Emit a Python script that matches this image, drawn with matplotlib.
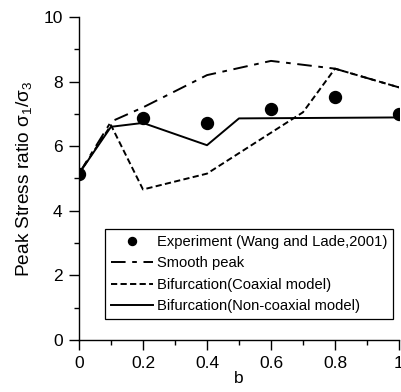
import matplotlib
matplotlib.use("Agg")
import matplotlib.pyplot as plt

plt.rcParams['font.family'] = ['Liberation Sans', 'DejaVu Sans']
plt.rcParams['mathtext.fontset'] = 'custom'
plt.rcParams['mathtext.rm'] = 'Liberation Sans'
plt.rcParams['mathtext.it'] = 'Liberation Sans'

# Data
exp_b = [0, 0.2, 0.4, 0.6, 0.8, 1.0]
exp_ratio = [5.15, 6.88, 6.72, 7.14, 7.52, 6.99]

smooth_b = [0, 0.1, 0.2, 0.4, 0.6, 0.8, 1.0]
smooth_ratio = [5.15, 6.76, 7.2, 8.2, 8.64, 8.4, 7.82]

coax_b = [0, 0.1, 0.2, 0.4, 0.7, 0.8, 1.0]
coax_ratio = [5.15, 6.65, 4.66, 5.15, 7.05, 8.4, 7.82]

noncoax_b = [0, 0.1, 0.2, 0.4, 0.5, 1.0]
noncoax_ratio = [5.15, 6.6, 6.72, 6.03, 6.86, 6.89]

fig = plt.figure(figsize=(4.02, 3.92), dpi=100)
ax = fig.add_axes([0.1965, 0.1327, 0.796, 0.824])

ax.plot(exp_b, exp_ratio, 'o', color='black', markersize=8.6, linestyle='none',
        label='Experiment (Wang and Lade,2001)', zorder=5)
ax.plot(smooth_b, smooth_ratio, color='black', lw=1.4, dashes=(7.5, 3.4, 2.4, 3.4),
        label='Smooth peak')
ax.plot(coax_b, coax_ratio, color='black', lw=1.4, dashes=(3.2, 1.7),
        label='Bifurcation(Coaxial model)')
ax.plot(noncoax_b, noncoax_ratio, color='black', lw=1.4,
        label='Bifurcation(Non-coaxial model)')

ax.set_xlim(0, 1)
ax.set_ylim(0, 10)
ax.set_xticks([0, 0.2, 0.4, 0.6, 0.8, 1.0])
ax.set_xticklabels(['0', '0.2', '0.4', '0.6', '0.8', '1'])
ax.set_xticks([0.1, 0.3, 0.5, 0.7, 0.9], minor=True)
ax.set_yticks([0, 2, 4, 6, 8, 10])
ax.set_yticks([1, 3, 5, 7, 9], minor=True)
ax.tick_params(which='major', length=7.3, width=1, direction='out', labelsize=12.5, pad=4.5)
ax.tick_params(which='minor', length=3.7, width=1, direction='out')
for s in ['top', 'right']:
    ax.spines[s].set_visible(False)
for s in ['left', 'bottom']:
    ax.spines[s].set_linewidth(1)
ax.set_xlabel('b', fontsize=12.5, labelpad=0)
ax.set_ylabel(r'Peak Stress ratio $\sigma_1/\sigma_3$', fontsize=13.8, labelpad=7)

leg = ax.legend(loc='lower left', bbox_to_anchor=(0.081, 0.065), fontsize=10.6,
                frameon=True, fancybox=False, edgecolor='black', framealpha=1,
                handlelength=2.9, handletextpad=0.25, borderpad=0.4, labelspacing=0.5,
                borderaxespad=0, markerscale=0.67)
leg.get_frame().set_linewidth(0.9)

fig.savefig('out.png', dpi=100)
